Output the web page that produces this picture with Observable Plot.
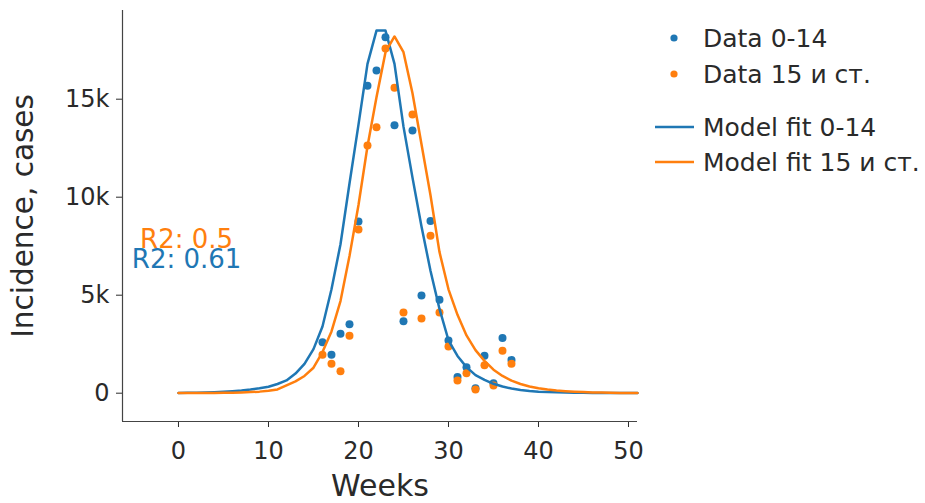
<!DOCTYPE html>
<html><head><meta charset="utf-8">
<script src="https://cdn.jsdelivr.net/npm/d3@7"></script>
<script src="https://cdn.jsdelivr.net/npm/@observablehq/plot@0.6"></script>
<style>body{margin:0;background:#fff;} #chart{position:relative;width:925px;height:503px;}</style>
</head><body><div id="chart"></div>
<script>
// ---- data ----
const dataWeeks = [16,17,18,19,20,21,22,23,24,25,26,27,28,29,30,31,32,33,34,35,36,37];
const data014   = [2600,1960,3030,3520,8760,15680,16460,18160,13670,3670,13400,4980,8780,4770,2690,820,1330,250,1910,510,2810,1700];
const data15    = [1960,1500,1120,2930,8350,12640,13570,17590,15580,4120,14220,3810,8030,4120,2380,650,1020,190,1430,390,2160,1500];

const modelWeeks = [0,1,2,3,4,5,6,7,8,9,10,11,12,13,14,15,16,17,18,19,20,21,22,23,24,25,26,27,28,29,30,31,32,33,34,35,36,37,38,39,40,41,42,43,44,45,46,47,48,49,50,51];
const model014 = [15,20,28,38,52,72,100,135,185,250,330,470,650,1000,1500,2250,3400,5300,7600,10700,13700,16800,18500,18500,16800,13600,11000,8500,6250,4300,2700,1900,1330,920,680,480,340,240,165,115,80,60,45,35,27,20,15,12,9,7,5,4];
const model15  = [5,7,9,12,16,21,28,38,55,80,120,190,400,600,880,1300,2100,3150,4700,7000,9600,12600,15100,17400,18200,17400,15300,12700,10100,7200,5300,4000,2950,2200,1650,1200,880,640,470,340,250,185,135,100,75,55,40,30,22,16,12,9];

const seriesNames = ["Data 0-14", "Data 15 и ст.", "Model fit 0-14", "Model fit 15 и ст."];
const r2Labels = ["R2: 0.5", "R2: 0.61"];
const r2X = [0.9, 0.9];
const r2Y = [7840, 6800];
const xTicks = [0,10,20,30,40,50];
const yTicks = [0,5000,10000,15000];
const xTitle = "Weeks";
const yTitle = "Incidence, cases";

// ---- tables ----
const blue = "#1f77b4", orange = "#ff7f0e";
const pts014 = dataWeeks.map((w,i)=>({w, v:data014[i]}));
const pts15  = dataWeeks.map((w,i)=>({w, v:data15[i]}));
const line014 = modelWeeks.map((w,i)=>({w, v:model014[i]}));
const line15  = modelWeeks.map((w,i)=>({w, v:model15[i]}));
const r2 = r2Labels.map((t,i)=>({t, x:r2X[i], y:r2Y[i], c: i===0?orange:blue}));

const xDom = [-6.22, 51], yDom = [-1444, 19525];
const font = "DejaVu Sans, Verdana, sans-serif";

const svg = Plot.plot({
  width: 925, height: 503,
  marginLeft: 122, marginRight: 288, marginTop: 10, marginBottom: 82,
  style: {fontFamily: font, fontSize: "24px", color: "#2a2a2a", background: "#fff"},
  x: {domain: xDom},
  y: {domain: yDom},
  marks: [
    Plot.axisX({ticks: xTicks, tickSize: 6, tickPadding: 14, label: null, fontSize: 24}),
    Plot.axisY({ticks: yTicks, tickSize: 6, tickPadding: 7, label: null, fontSize: 24,
      tickFormat: d => d === 0 ? "0" : (d/1000) + "k"}),
    Plot.ruleX([xDom[0]], {stroke: "#444", strokeWidth: 1.2}),
    Plot.ruleY([yDom[0]], {stroke: "#444", strokeWidth: 1.2}),
    Plot.dot(pts014, {x: "w", y: "v", r: 4, fill: blue}),
    Plot.dot(pts15, {x: "w", y: "v", r: 4, fill: orange}),
    Plot.line(line014, {x: "w", y: "v", stroke: blue, strokeWidth: 2.5}),
    Plot.line(line15, {x: "w", y: "v", stroke: orange, strokeWidth: 2.5}),
    Plot.text(r2, {x: "x", y: "y", text: "t", fill: "c", fontSize: 26, textAnchor: "middle"}),
    Plot.text([xTitle], {text: d => d, frameAnchor: "bottom", textAnchor: "middle", dy: 74, fontSize: 30, fill: "#2a2a2a"}),
    Plot.text([yTitle], {text: d => d, frameAnchor: "left", textAnchor: "middle", rotate: -90, dx: -98.5, fontSize: 29.5, fill: "#2a2a2a"})
  ]
});

// ---- legend ----
const lg = d3.select(svg).append("g").attr("font-family", font).attr("font-size", 25)
  .attr("fill", "#2a2a2a").attr("text-anchor", "start");
const rowsY = [38, 74, 127, 162];
const colors = [blue, orange, blue, orange];
seriesNames.forEach((name, i) => {
  const y = rowsY[i];
  if (i < 2) {
    lg.append("circle").attr("cx", 674).attr("cy", y).attr("r", 3.6).attr("fill", colors[i]);
  } else {
    lg.append("line").attr("x1", 655).attr("x2", 694).attr("y1", y).attr("y2", y)
      .attr("stroke", colors[i]).attr("stroke-width", 2.5);
  }
  lg.append("text").attr("x", 703).attr("y", y).attr("dy", "0.36em").attr("text-anchor", "start").text(name);
});

document.getElementById("chart").appendChild(svg);
</script>
</body></html>
